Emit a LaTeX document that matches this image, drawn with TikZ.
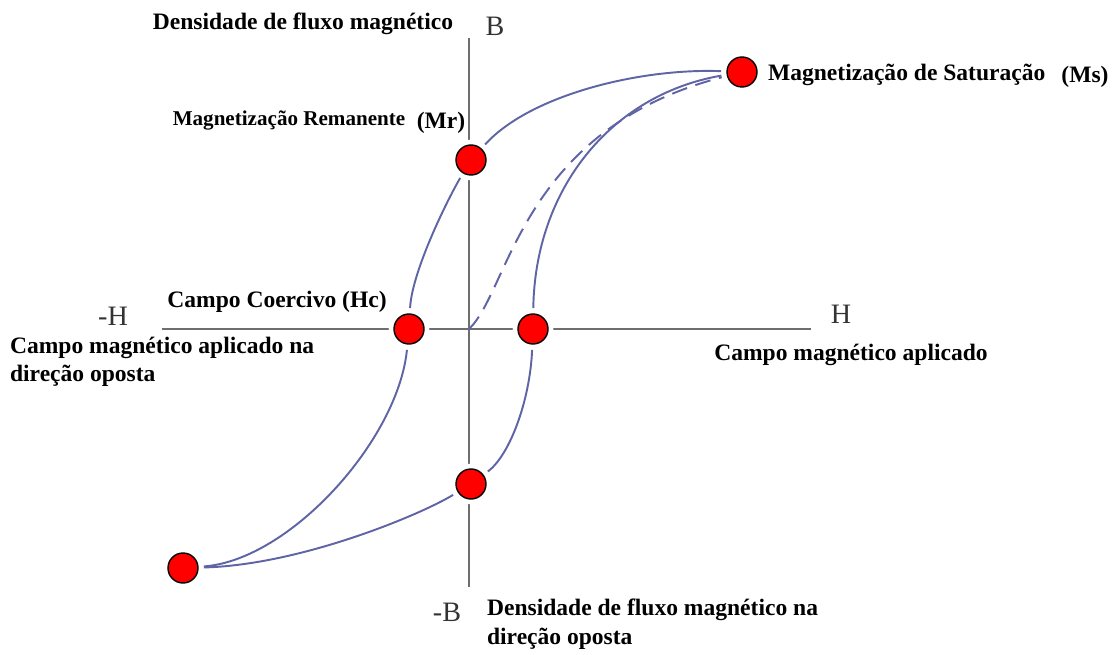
\documentclass[tikz,border=0pt]{standalone}
\usepackage{fontspec}
\setmainfont{Liberation Serif}
\usetikzlibrary{backgrounds}
\definecolor{loopblue}{RGB}{95,100,165}
\definecolor{axisgray}{RGB}{110,110,110}

\begin{document}
\begin{tikzpicture}[x=0.02cm, y=0.02cm,
  dot/.style={circle, fill=red, draw=black, line width=0.8pt, minimum size=0.6cm, inner sep=0pt, preaction={draw=white, line width=6pt}},
  lbl/.style={font=\bfseries\fontsize{13.4}{16.2}\selectfont, fill=white, inner sep=1pt},
  axlbl/.style={font=\fontsize{16}{18}\selectfont, text=black!80, fill=white, inner sep=1pt},
  axis/.style={axisgray, line width=1.6pt},
  loop/.style={loopblue, line width=1.1pt, shorten <=3pt, shorten >=3pt}]
\useasboundingbox (0,0) rectangle (1119,-655);
% Points of the loop
\coordinate (O) at (469,-329);
\node[dot] (Ms) at (742,-72) {};
\node[dot] (Mr) at (471,-160) {};
\node[dot] (Hc) at (409,-329) {};
\node[dot] (Hr) at (533,-329) {};
\node[dot] (nMr) at (471,-484) {};
\node[dot] (nMs) at (183,-568) {};
% Axes and loop
\begin{scope}[on background layer]
\draw[axis] (162,-329) -- (811,-329);
\draw[axis] (469,-38) -- (469,-587);
\draw[loop] (Ms) .. controls (640,-68) and (530,-95) .. (Mr);
\draw[loop] (Mr) .. controls (450,-195) and (412,-270) .. (Hc);
\draw[loop] (Hc) .. controls (398,-440) and (290,-560) .. (nMs);
\draw[loop] (nMs) .. controls (300,-565) and (420,-515) .. (nMr);
\draw[loop] (nMr) .. controls (510,-455) and (530,-400) .. (Hr);
\draw[loop] (Hr) .. controls (535,-190) and (610,-95) .. (Ms);
\draw[loop, dashed, dash pattern=on 9pt off 5pt, shorten <=0pt] (O) .. controls (510,-290) and (520,-130) .. (Ms);
\end{scope}
% Labels
\node[lbl] (dens) at (303,-24) {Densidade de fluxo magnético};
\node[axlbl] (B) at (495,-26) {B};
\node[lbl, font=\bfseries\fontsize{12}{14}\selectfont] (mrtxt) at (289,-120) {Magnetização Remanente};
\node[lbl] (mrtag) at (441,-123) {(Mr)};
\node[lbl, anchor=west] (mstxt) at (766,-75) {Magnetização de Saturação};
\node[lbl] (mstag) at (1085,-77) {(Ms)};
\node[lbl] (hctxt) at (277,-302) {Campo Coercivo (Hc)};
\node[axlbl] (mH) at (113,-316) {-H};
\node[axlbl] (H) at (841,-314) {H};
\node[lbl, anchor=north west, align=left] (oppH) at (8,-335) {Campo magnético aplicado na\\direção oposta};
\node[lbl] (apH) at (851,-355) {Campo magnético aplicado};
\node[axlbl] (mB) at (447,-612) {-B};
\node[lbl, anchor=north west, align=left] (oppB) at (485,-597) {Densidade de fluxo magnético na\\direção oposta};
\end{tikzpicture}
\end{document}
